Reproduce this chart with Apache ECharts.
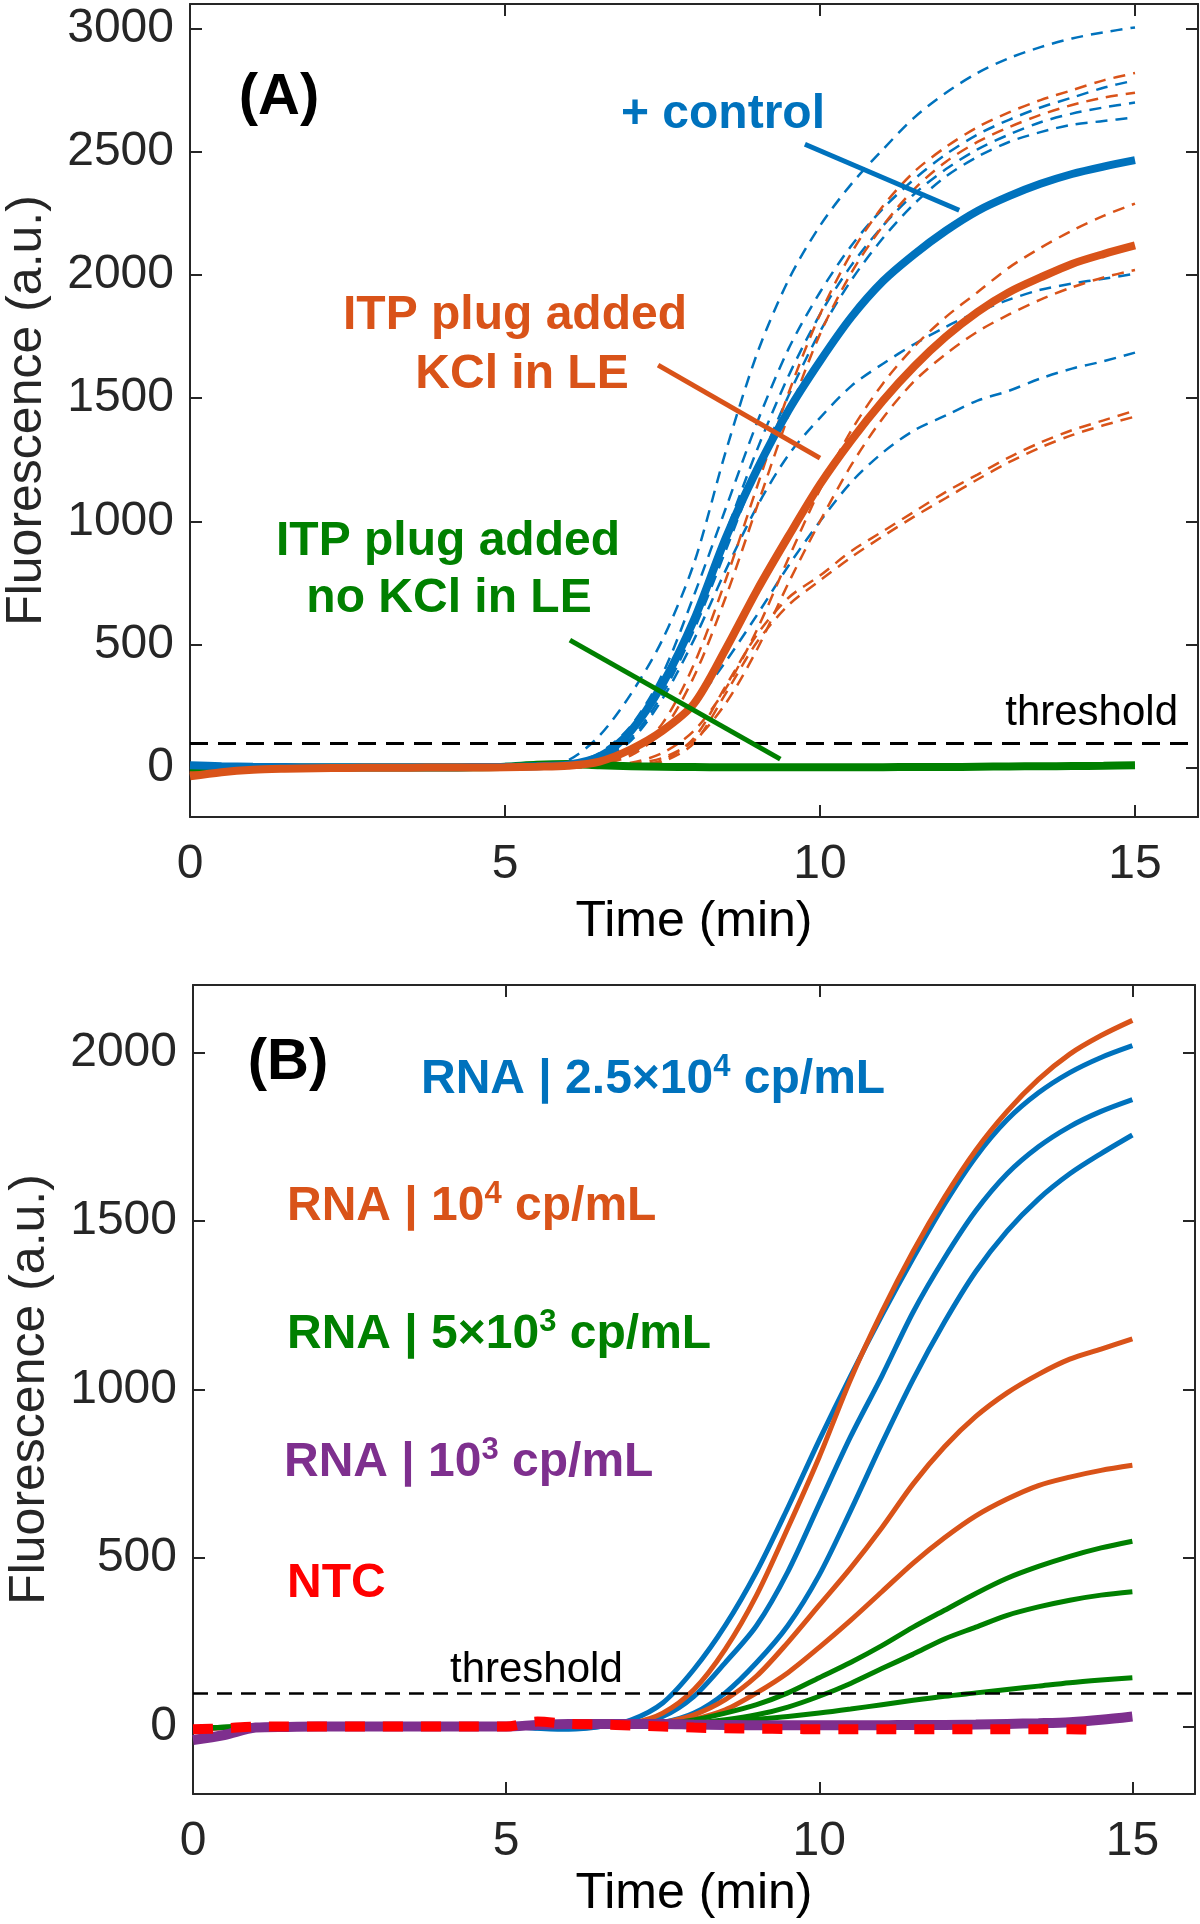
<!DOCTYPE html>
<html>
<head>
<meta charset="utf-8">
<script src="https://cdn.jsdelivr.net/npm/echarts@6/dist/echarts.min.js"></script>
<style>
html,body{margin:0;padding:0;background:#fff;}
#chart{width:1200px;height:1924px;}
</style>
</head>
<body>
<div id="chart"></div>
<script>
// ---------- DATA ----------
const time = [0,0.5,1,1.5,2,2.5,3,3.5,4,4.5,5,5.5,6,6.5,7,7.5,8,8.5,9,9.5,10,10.5,11,11.5,12,12.5,13,13.5,14,14.5,15];
const xTicks = [0,5,10,15];
const yTicksA = [0,500,1000,1500,2000,2500,3000];
const yTicksB = [0,500,1000,1500,2000];
const threshold = 100;

// Panel A: individual runs (dashed)
const ctrlRun1 = [0,0,0,0,0,0,0,0,0,0,2,5,30,130,300,520,830,1280,1680,1980,2200,2370,2510,2640,2740,2820,2880,2925,2960,2985,3005];
const ctrlRun2 = [0,0,0,0,0,0,0,0,0,0,2,4,15,60,170,380,700,1050,1400,1700,1930,2120,2270,2390,2490,2570,2630,2680,2720,2760,2790];
const ctrlRun3 = [0,0,0,0,0,0,0,0,0,0,2,4,12,50,150,340,620,950,1290,1590,1840,2040,2200,2330,2430,2510,2570,2620,2655,2680,2700];
const ctrlRun4 = [0,0,0,0,0,0,0,0,0,0,2,3,10,40,120,300,560,880,1210,1510,1770,1980,2150,2290,2400,2480,2540,2580,2610,2625,2640];
const ctrlRun5 = [0,0,0,0,0,0,0,0,0,0,1,3,8,35,110,280,520,800,1060,1270,1420,1550,1640,1720,1790,1850,1900,1940,1965,1985,2005];
const ctrlRun6 = [0,0,0,0,0,0,0,0,0,0,1,2,5,20,60,140,260,430,620,820,1000,1160,1280,1370,1430,1490,1530,1580,1620,1650,1685];
const kclRun1 = [-20,-10,-4,-2,0,0,0,0,0,0,1,2,5,20,60,180,420,760,1140,1520,1840,2090,2280,2420,2520,2600,2660,2710,2750,2790,2820];
const kclRun2 = [-20,-10,-4,-2,0,0,0,0,0,0,1,2,4,15,50,150,370,690,1060,1430,1760,2010,2200,2350,2460,2540,2600,2650,2690,2720,2740];
const kclRun3 = [-20,-10,-4,-2,0,0,0,0,0,0,1,1,2,8,20,60,150,320,560,850,1130,1370,1560,1710,1830,1930,2030,2110,2180,2240,2290];
const kclRun4 = [-20,-10,-4,-2,0,0,0,0,0,0,1,1,2,5,15,40,110,260,480,750,1000,1230,1420,1570,1680,1770,1840,1900,1950,1990,2020];
const kclRun5 = [-20,-10,-4,-2,0,0,0,0,0,0,1,1,2,5,10,30,120,330,540,690,780,880,960,1040,1120,1190,1260,1320,1370,1410,1450];
const kclRun6 = [-20,-10,-4,-2,0,0,0,0,0,0,1,1,2,4,8,25,100,300,510,660,760,855,940,1020,1095,1170,1240,1300,1350,1390,1425];
// Panel A: means (thick)
const ctrlMean = [10,6,4,3,2,2,2,2,2,3,4,6,12,45,150,340,600,930,1210,1450,1650,1830,1975,2085,2180,2260,2320,2370,2410,2440,2466];
const kclMean  = [-35,-18,-8,-4,-2,-1,0,0,1,1,2,4,8,25,75,150,260,480,720,940,1150,1330,1490,1630,1750,1850,1930,1990,2045,2085,2120];
const noKclMean = [2,2,1,1,1,1,1,1,1,2,4,12,15,10,6,4,3,2,2,2,2,2,2,3,3,4,5,6,7,8,10];

// Panel B: RNA dilutions
const rna25k_1 = [-5,-3,0,0,0,0,0,0,0,0,0,-5,-8,0,20,70,170,300,460,650,850,1040,1220,1390,1550,1690,1800,1880,1940,1985,2020];
const rna25k_2 = [-5,-3,0,0,0,0,0,0,0,0,0,-4,-6,0,8,30,90,190,300,460,660,860,1040,1230,1390,1530,1640,1720,1780,1825,1860];
const rna25k_3 = [-5,-3,0,0,0,0,0,0,0,0,0,-3,-4,0,3,12,40,100,190,300,450,640,840,1030,1200,1350,1470,1565,1640,1700,1755];
const rna10k_1 = [-5,-3,0,0,0,0,0,0,0,0,0,2,2,3,10,40,110,230,390,590,800,1030,1230,1410,1570,1710,1825,1920,1995,2050,2095];
const rna10k_2 = [-5,-3,0,0,0,0,0,0,0,0,0,2,2,2,3,12,35,80,150,250,360,470,590,720,830,920,990,1045,1090,1120,1150];
const rna10k_3 = [-5,-3,0,0,0,0,0,0,0,0,0,2,2,2,2,8,22,50,100,160,235,315,400,485,560,625,675,715,740,760,775];
const rna5k_1 = [-5,-2,0,0,0,0,0,0,0,0,0,2,2,2,2,8,20,40,65,100,145,190,240,295,345,395,440,475,505,530,550];
const rna5k_2 = [-5,-2,0,0,0,0,0,0,0,0,0,2,2,2,1,4,10,20,35,58,90,128,172,215,260,295,330,355,375,390,400];
const rna5k_3 = [-5,-2,0,0,0,0,0,0,0,0,0,2,2,2,0,2,5,15,22,30,40,52,65,78,90,100,110,120,130,138,145];
const rna1k = [-40,-25,-3,-1,0,0,0,0,0,0,0,5,8,8,8,8,6,5,4,4,4,4,4,5,5,6,8,10,13,20,30];
const ntc = [-8,-5,0,0,0,0,0,0,0,0,0,15,8,6,3,0,-3,-5,-6,-7,-8,-8,-8,-8,-8,-8,-8,-8,-8,-10,null];

// annotation pointer segments (data coordinates)
const ptrCtrl = [[9.76,2531],[12.21,2263]];
const ptrKcl = [[7.43,1634],[10.0,1257]];
const ptrNoKcl = [[6.03,518],[9.37,35]];

// ---------- CHART ----------
const BLUE = '#0072BD', ORANGE = '#D95319', GREEN = '#008000', PURPLE = '#7E2F8E', RED = '#FF0000';
const AX = '#262626';
const FONT = 'Liberation Sans, Arial, Helvetica, sans-serif';
const pair = arr => time.map((t,i) => [t, arr[i]]);
const plain = v => String(v);

function xAx(gi, pos, nameGap){
  const o = {
    type:'value', gridIndex:gi, position:pos, min:0, max:16,
    axisLine:{show:true, onZero:false, lineStyle:{color:AX, width:2}},
    axisTick:{show:true, inside:true, length:12, customValues:xTicks, lineStyle:{color:AX, width:2}},
    axisLabel:{show: pos==='bottom', customValues:xTicks, formatter:plain, fontSize:48, color:AX, fontFamily:FONT, margin:24},
    splitLine:{show:false}
  };
  if (pos==='bottom'){
    o.name='Time (min)'; o.nameLocation='middle'; o.nameGap=nameGap;
    o.nameTextStyle={fontSize:50, color:'#000', fontFamily:FONT};
  }
  return o;
}
function yAx(gi, pos, min, max, ticks){
  const o = {
    type:'value', gridIndex:gi, position:pos, min:min, max:max,
    axisLine:{show:true, onZero:false, lineStyle:{color:AX, width:2}},
    axisTick:{show:true, inside:true, length:12, customValues:ticks, lineStyle:{color:AX, width:2}},
    axisLabel:{show: pos==='left', customValues:ticks, formatter:plain, fontSize:48, color:AX, fontFamily:FONT, margin:16},
    splitLine:{show:false}
  };
  if (pos==='left'){
    o.name='Fluorescence (a.u.)'; o.nameLocation='middle'; o.nameGap=138;
    o.nameTextStyle={fontSize:50, color:AX, fontFamily:FONT};
  }
  return o;
}

const series = [];
function addLine(data, color, width, dash, xi, yi, z){
  series.push({
    type:'line', data:pair(data), xAxisIndex:xi, yAxisIndex:yi,
    showSymbol:false, symbol:'none', smooth:0.3, z:z||2,
    lineStyle:{color:color, width:width, type:dash||'solid', cap:'butt'},
    silent:true
  });
}
// Panel A dashed runs
[ctrlRun1,ctrlRun2,ctrlRun3,ctrlRun4,ctrlRun5,ctrlRun6].forEach(d=>addLine(d, BLUE, 2.5, [12,8], 0, 0, 2));
[kclRun1,kclRun2,kclRun3,kclRun4,kclRun5,kclRun6].forEach(d=>addLine(d, ORANGE, 2.5, [12,8], 0, 0, 2));
addLine(noKclMean, GREEN, 8, 'solid', 0, 0, 3);
addLine(ctrlMean, BLUE, 8, 'solid', 0, 0, 4);
addLine(kclMean, ORANGE, 8, 'solid', 0, 0, 5);
// threshold A
series.push({type:'line', xAxisIndex:0, yAxisIndex:0, data:[], silent:true,
  markLine:{silent:true, symbol:['none','none'], animation:false, label:{show:false},
    lineStyle:{color:'#000', width:3, type:[18,10]}, data:[{yAxis:threshold}]}});
// pointers
[[ptrCtrl,BLUE],[ptrKcl,ORANGE],[ptrNoKcl,GREEN]].forEach(p=>{
  series.push({type:'line', data:p[0], xAxisIndex:0, yAxisIndex:0, showSymbol:false, symbol:'none', z:6,
    lineStyle:{color:p[1], width:5}, silent:true});
});

// Panel B
[rna25k_1,rna25k_2,rna25k_3].forEach(d=>addLine(d, BLUE, 5, 'solid', 2, 2, 2));
[rna10k_1,rna10k_2,rna10k_3].forEach(d=>addLine(d, ORANGE, 5, 'solid', 2, 2, 3));
[rna5k_1,rna5k_2,rna5k_3].forEach(d=>addLine(d, GREEN, 5, 'solid', 2, 2, 4));
addLine(rna1k, PURPLE, 10, 'solid', 2, 2, 5);
addLine(ntc, RED, 10, [20,18], 2, 2, 6);
series.push({type:'line', xAxisIndex:2, yAxisIndex:2, data:[], silent:true,
  markLine:{silent:true, symbol:['none','none'], animation:false, label:{show:false},
    lineStyle:{color:'#000', width:2.5, type:[15,9]}, data:[{yAxis:threshold}]}});

const boldTxt = (x,y,text,color,align,size) => ({
  type:'text', x:x, y:y, z:100,
  style:{text:text, fill:color, font:'bold '+(size||48)+'px '+FONT, textAlign:align||'left', textVerticalAlign:'middle'}
});
const richTxt = (x,y,main1,sup,main2,color) => ({
  type:'text', x:x, y:y, z:100,
  style:{text:'{a|'+main1+'}{s|'+sup+'}{a|'+main2+'}', textAlign:'left', textVerticalAlign:'middle',
    rich:{a:{fill:color, fontSize:48, fontWeight:'bold', fontFamily:FONT, lineHeight:56},
          s:{fill:color, fontSize:31, fontWeight:'bold', fontFamily:FONT, lineHeight:56, verticalAlign:'top', padding:[0,0,0,0]}}}
});

const option = {
  animation:false,
  backgroundColor:'#fff',
  grid:[
    {left:190, top:4, width:1008, height:813, containLabel:false, outerBoundsMode:'none'},
    {left:193, top:985, width:1002, height:809, containLabel:false, outerBoundsMode:'none'}
  ],
  xAxis:[xAx(0,'bottom',80), xAx(0,'top'), xAx(1,'bottom',75), xAx(1,'top')],
  yAxis:[yAx(0,'left',-200,3100,yTicksA), yAx(0,'right',-200,3100,yTicksA),
         yAx(1,'left',-200,2200,yTicksB), yAx(1,'right',-200,2200,yTicksB)],
  series:series,
  graphic:[
    boldTxt(279,98,'(A)','#000','center',58),
    boldTxt(723,115,'+ control',BLUE,'center'),
    boldTxt(515,316,'ITP plug added',ORANGE,'center'),
    boldTxt(522,375,'KCl in LE',ORANGE,'center'),
    boldTxt(448,542,'ITP plug added',GREEN,'center'),
    boldTxt(449,599,'no KCl in LE',GREEN,'center'),
    {type:'text', x:1178, y:713, z:100, style:{text:'threshold', fill:'#000', font:'42px '+FONT, textAlign:'right', textVerticalAlign:'middle'}},
    boldTxt(288,1063,'(B)','#000','center',58),
    richTxt(421,1080,'RNA | 2.5×10','4',' cp/mL',BLUE),
    richTxt(287,1207,'RNA | 10','4',' cp/mL',ORANGE),
    richTxt(287,1335,'RNA | 5×10','3',' cp/mL',GREEN),
    richTxt(284,1463,'RNA | 10','3',' cp/mL',PURPLE),
    boldTxt(287,1584,'NTC',RED,'left'),
    {type:'text', x:450, y:1670, z:100, style:{text:'threshold', fill:'#000', font:'42px '+FONT, textAlign:'left', textVerticalAlign:'middle'}}
  ]
};
const chart = echarts.init(document.getElementById('chart'), null, {renderer:'canvas'});
chart.setOption(option);
</script>
</body>
</html>
